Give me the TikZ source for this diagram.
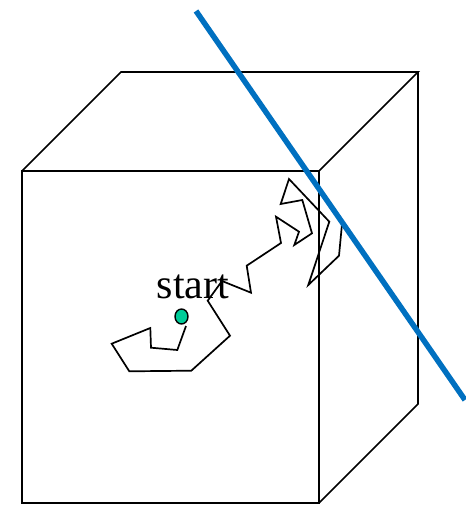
\documentclass[tikz,border=0pt]{standalone}
\usepackage{fontspec}
\usetikzlibrary{shapes.geometric}
\setmainfont{Liberation Serif}
\definecolor{bluel}{HTML}{0070C0}
\definecolor{dotc}{HTML}{00CC99}
\tikzset{edge/.style={draw=black,line width=1.7pt,line join=miter},
 walk/.style={draw=black,line width=1.7pt,line join=miter},
 barrier/.style={draw=bluel,line width=5.5pt},
 lab/.style={font=\fontsize{42}{42}\selectfont,inner sep=0pt,text=black}}
\begin{document}
\begin{tikzpicture}[x=1pt,y=-1pt]
\useasboundingbox (0,0) rectangle (465,505);
\coordinate (f1) at (22,171); \coordinate (f2) at (319,171); \coordinate (f3) at (319,503); \coordinate (f4) at (22,503);
\coordinate (b1) at (121,72); \coordinate (b2) at (418,72); \coordinate (b3) at (418,404);
\draw[edge] (f1) -- (f2) -- (f3) -- (f4) -- cycle;
\draw[edge] (f1) -- (b1) -- (b2) -- (f2);
\draw[edge] (b2) -- (b3) -- (f3);
\node[lab] (startlabel) at (193,287) {start};
\draw[walk] (186,326) -- (177.3,350) -- (151,347.7) -- (150.3,328) -- (111.7,343.7) -- (129.3,371.3) -- (191.3,370.7) -- (230,335.7) -- (207.7,300.7) -- (222,281) -- (251,292.7) -- (246.7,265.7) -- (281,243) -- (276,216.7) -- (299,231.7) -- (294.3,245) -- (312,233.3) -- (302.3,200) -- (280.7,204) -- (289,179) -- (329.3,221.7) -- (308.3,285) -- (339,255.7) -- (342,224);
\node[draw=black,fill=dotc,ellipse,line width=1.4pt,minimum width=13pt,minimum height=15pt,inner sep=0pt] (startdot) at (181.5,316.5) {};
\coordinate (l1) at (196,11); \coordinate (l2) at (465,400);
\draw[barrier] (l1) -- (l2);
\end{tikzpicture}
\end{document}
